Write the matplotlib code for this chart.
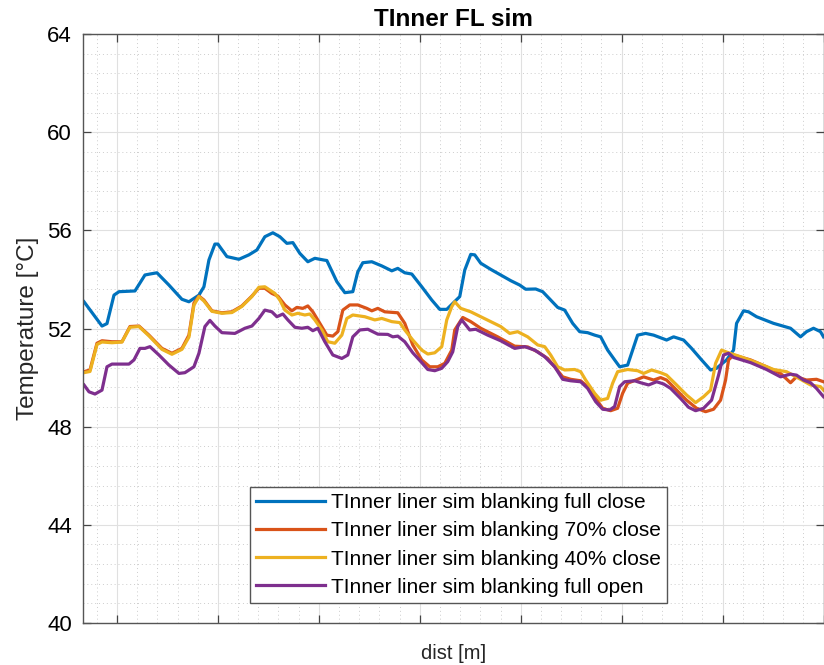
import matplotlib
matplotlib.use("Agg")
import matplotlib.pyplot as plt
from matplotlib.ticker import MultipleLocator, NullFormatter

plt.rcParams['font.family'] = ['Liberation Sans', 'DejaVu Sans']

# distance along the liner (arbitrary units, tick labels are hidden in the original)
dist_full_close = [1, 19, 24, 31, 36, 52, 62, 67, 74, 86, 99, 106, 116, 121, 126, 132, 135, 144, 156, 166,
                   174, 182, 190, 197, 204, 210, 217, 225, 232, 241, 244, 254, 262, 270, 275, 280, 289, 299,
                   309, 315, 322, 329, 339, 349, 357, 364, 372, 377, 382, 388, 392, 398, 408, 418, 428, 437,
                   443, 453, 460, 468, 475, 482, 490, 497, 505, 512, 518, 525, 532, 537, 545, 550, 555, 563,
                   571, 584, 591, 601, 609, 619, 628, 634, 644, 651, 654, 661, 666, 674, 691, 708, 718, 724,
                   731, 738, 741]
t_full_close = [53.09, 52.10, 52.20, 53.36, 53.50, 53.53, 54.18, 54.22, 54.27, 53.77, 53.19, 53.09, 53.36,
                53.70, 54.79, 55.44, 55.44, 54.93, 54.82, 55.00, 55.20, 55.74, 55.90, 55.74, 55.47, 55.50,
                55.06, 54.72, 54.86, 54.79, 54.77, 53.91, 53.46, 53.50, 54.31, 54.68, 54.72, 54.55, 54.35,
                54.45, 54.27, 54.22, 53.70, 53.16, 52.78, 52.78, 53.10, 53.30, 54.38, 55.02, 55.00, 54.66,
                54.41, 54.18, 53.95, 53.77, 53.60, 53.61, 53.50, 53.16, 52.86, 52.75, 52.21, 51.87, 51.83,
                51.73, 51.66, 51.12, 50.72, 50.44, 50.51, 51.12, 51.73, 51.80, 51.73, 51.53, 51.66, 51.53,
                51.19, 50.72, 50.31, 50.38, 50.72, 51.12, 52.21, 52.72, 52.68, 52.48, 52.21, 52.01, 51.66,
                51.87, 52.01, 51.87, 51.66]

dist_70_close = [1, 7, 14, 19, 29, 39, 47, 56, 66, 79, 89, 99, 106, 111, 116, 121, 129, 139, 149, 159, 169,
                 176, 182, 189, 195, 202, 209, 214, 220, 225, 230, 237, 244, 250, 255, 260, 267, 275, 284,
                 289, 295, 302, 315, 322, 330, 339, 347, 355, 362, 369, 372, 380, 388, 398, 415, 432, 445,
                 455, 465, 472, 480, 488, 498, 505, 513, 520, 528, 535, 540, 545, 555, 561, 571, 578, 584,
                 594, 604, 614, 623, 631, 638, 643, 646, 651, 668, 684, 698, 708, 714, 724, 734, 741]
t_70_close = [50.24, 50.31, 51.40, 51.50, 51.46, 51.46, 52.08, 52.10, 51.73, 51.19, 50.99, 51.19, 51.73,
              53.03, 53.32, 53.16, 52.72, 52.64, 52.68, 52.92, 53.32, 53.64, 53.64, 53.43, 53.32, 52.96,
              52.72, 52.86, 52.82, 52.92, 52.68, 52.21, 51.73, 51.69, 51.87, 52.75, 52.96, 52.96, 52.82,
              52.72, 52.82, 52.68, 52.64, 52.21, 51.33, 50.72, 50.44, 50.44, 50.58, 51.12, 51.94, 52.45,
              52.28, 52.01, 51.66, 51.28, 51.25, 51.05, 50.78, 50.44, 50.03, 49.93, 49.87, 49.63, 49.15,
              48.75, 48.65, 48.75, 49.36, 49.77, 49.93, 50.03, 49.90, 50.00, 49.90, 49.49, 49.08, 48.75,
              48.61, 48.71, 49.08, 49.90, 50.72, 50.92, 50.72, 50.44, 50.17, 49.79, 50.03, 49.90, 49.93,
              49.83]

dist_40_close = [1, 7, 14, 19, 29, 39, 47, 56, 66, 79, 89, 99, 106, 111, 116, 121, 129, 139, 149, 159, 169,
                 176, 182, 192, 197, 202, 209, 215, 222, 227, 232, 239, 245, 252, 259, 264, 270, 282, 292,
                 299, 309, 317, 322, 330, 339, 345, 352, 359, 364, 369, 372, 378, 388, 398, 408, 418, 427,
                 435, 445, 455, 462, 468, 475, 482, 492, 498, 503, 512, 518, 525, 530, 535, 545, 555, 561,
                 569, 578, 584, 594, 604, 613, 621, 628, 633, 639, 646, 658, 674, 691, 704, 718, 728, 738,
                 741]
t_40_close = [50.20, 50.25, 51.35, 51.45, 51.42, 51.45, 52.05, 52.08, 51.70, 51.15, 50.95, 51.15, 51.65,
              52.95, 53.30, 53.12, 52.70, 52.62, 52.65, 52.90, 53.30, 53.68, 53.70, 53.43, 53.16, 52.75,
              52.55, 52.62, 52.55, 52.59, 52.35, 51.94, 51.46, 51.40, 51.73, 52.41, 52.55, 52.48, 52.35,
              52.41, 52.28, 52.24, 51.94, 51.53, 51.12, 50.96, 51.01, 51.26, 52.35, 52.89, 53.09, 52.82,
              52.68, 52.48, 52.28, 52.08, 51.80, 51.87, 51.66, 51.33, 51.26, 50.92, 50.44, 50.31, 50.33,
              50.24, 49.90, 49.36, 49.08, 49.15, 49.77, 50.24, 50.33, 50.28, 50.17, 50.31, 50.20, 50.10,
              49.70, 49.29, 48.98, 49.22, 49.49, 50.58, 51.12, 51.01, 50.85, 50.61, 50.33, 50.24, 49.93,
              49.70, 49.63, 49.49]

dist_full_open = [1, 6, 12, 19, 24, 29, 46, 51, 57, 62, 67, 76, 86, 96, 102, 111, 116, 122, 127, 132, 139,
                  152, 162, 169, 176, 182, 189, 194, 200, 205, 212, 219, 225, 230, 235, 242, 250, 259, 265,
                  270, 277, 285, 295, 305, 310, 315, 322, 330, 339, 345, 352, 359, 365, 370, 375, 379, 387,
                  393, 405, 418, 432, 442, 452, 462, 472, 480, 488, 498, 505, 513, 520, 527, 532, 537, 542,
                  552, 558, 566, 574, 581, 588, 598, 606, 613, 621, 629, 636, 641, 646, 651, 668, 684, 698,
                  708, 714, 721, 728, 734, 741]
t_full_open = [49.70, 49.42, 49.33, 49.49, 50.44, 50.55, 50.55, 50.72, 51.19, 51.19, 51.26, 50.92, 50.51,
               50.17, 50.20, 50.44, 50.99, 52.08, 52.33, 52.10, 51.83, 51.80, 52.01, 52.10, 52.41, 52.75,
               52.68, 52.48, 52.59, 52.35, 52.05, 52.01, 52.05, 51.91, 52.01, 51.46, 50.92, 50.78, 50.92,
               51.66, 51.94, 51.97, 51.77, 51.76, 51.66, 51.69, 51.46, 51.01, 50.61, 50.33, 50.28, 50.38,
               50.65, 51.05, 52.08, 52.35, 51.94, 51.97, 51.73, 51.50, 51.19, 51.26, 51.12, 50.85, 50.44,
               49.93, 49.87, 49.83, 49.56, 49.02, 48.71, 48.68, 48.82, 49.63, 49.83, 49.87, 49.79, 49.70,
               49.83, 49.74, 49.56, 49.15, 48.79, 48.65, 48.75, 49.08, 50.10, 50.92, 50.99, 50.82, 50.61,
               50.33, 50.03, 50.14, 50.10, 49.90, 49.79, 49.56, 49.22]

labels = ['TInner liner sim blanking full close',
          'TInner liner sim blanking 70% close',
          'TInner liner sim blanking 40% close',
          'TInner liner sim blanking full open']
colors = ['#0072BD', '#D95319', '#EDB120', '#7E2F8E']

fig = plt.figure(figsize=(8.24, 6.65), dpi=100)
ax = fig.add_axes([83/824, 1 - 623/665, 740.5/824, 589/665])

series = [(dist_full_close, t_full_close), (dist_70_close, t_70_close),
          (dist_40_close, t_40_close), (dist_full_open, t_full_open)]
for (x, y), lab, c in zip(series, labels, colors):
    ax.plot(x, y, color=c, lw=2.3, label=lab, solid_joinstyle='round')

ax.set_xlim(0, 741)
ax.set_ylim(40, 64)
ax.xaxis.set_major_locator(MultipleLocator(101, offset=34))
ax.xaxis.set_minor_locator(MultipleLocator(20.2, offset=34))
ax.xaxis.set_major_formatter(NullFormatter())
ax.yaxis.set_major_locator(MultipleLocator(4))
ax.yaxis.set_minor_locator(MultipleLocator(0.8))

ax.grid(True, which='major', color='#e0e0e0', lw=0.8)
ax.grid(True, which='minor', color='#cccccc', lw=0.7, linestyle=(0, (1, 3)))
ax.set_axisbelow(True)

ax.tick_params(which='major', direction='in', length=6, width=0.9, top=True, right=True,
               labelsize=16, pad=8, color='#444444')
ax.tick_params(which='minor', length=0, top=True, right=True)
for s in ax.spines.values():
    s.set_color('#555555')
    s.set_linewidth(1.0)

ax.set_title('TInner FL sim', fontsize=17.5, fontweight='bold', pad=6)
ax.set_ylabel('Temperature [°C]', fontsize=17.5, labelpad=6, color='#262626')
ax.set_xlabel('dist [m]', fontsize=14.5, labelpad=7, color='#262626')

leg = ax.legend(loc='lower left', bbox_to_anchor=(0.2254, 0.034), fontsize=15, handlelength=3.3,
                handletextpad=0.3, labelspacing=0.44, borderpad=0.3, fancybox=False, framealpha=1,
                borderaxespad=0)
leg.get_frame().set_edgecolor('#555555')
leg.get_frame().set_linewidth(1.0)

fig.savefig('out.png', dpi=100)
